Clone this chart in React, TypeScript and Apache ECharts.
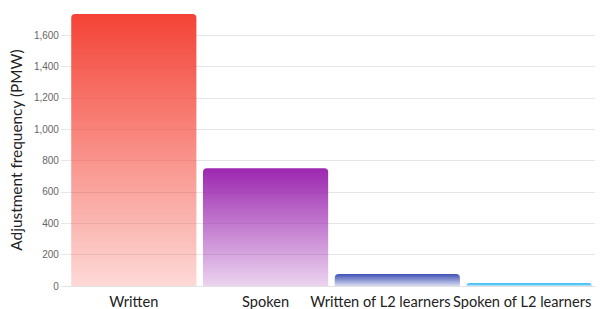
import React, { useEffect, useRef } from "react";
import * as echarts from "echarts";

const categories = ["Written", "Spoken", "Written of L2 learners", "Spoken of L2 learners"];
const values = [1734, 750, 76, 17];
const topColors = ["rgba(244,67,54,1)", "rgba(156,39,176,1)", "rgba(63,81,181,1)", "rgba(3,169,244,1)"];
const bottomColors = ["rgba(244,67,54,0.2)", "rgba(156,39,176,0.2)", "rgba(63,81,181,0.2)", "rgba(3,169,244,0.2)"];
const yAxisTitle = "Adjustment frequency (PMW)";
// horizontal shift of each category label (reference labels are nudged left to avoid overlap)
const labelPadRight = [0, 0, 34, 14];

export default function App() {
  const ref = useRef<HTMLDivElement>(null);
  useEffect(() => {
    if (!ref.current) return;
    const chart = echarts.init(ref.current, null, { renderer: "svg" });
    chart.setOption({
      animation: false,
      grid: { left: 66, right: 5, top: 14, bottom: 23, containLabel: false },
      xAxis: {
        type: "category",
        data: categories.map((c, i) => ({
          value: c,
          textStyle: { padding: [0, labelPadRight[i], 0, 0] },
        })),
        axisLine: { show: true, lineStyle: { color: "#e3e3e3", width: 1 } },
        axisTick: { show: false },
        axisLabel: {
          color: "#222",
          fontFamily: "Lato",
          fontSize: 14.6,
          margin: 8,
          interval: 0,
        },
      },
      yAxis: {
        type: "value",
        min: 0,
        max: 1734,
        interval: 200,
        name: yAxisTitle,
        nameLocation: "middle",
        nameGap: 42,
        nameTextStyle: { color: "#222", fontFamily: "Lato", fontSize: 15.4 },
        axisLine: { show: false },
        axisTick: { show: true, length: 7, lineStyle: { color: "#e6e6e6" } },
        axisLabel: {
          color: "#666",
          fontFamily: "Liberation Sans",
          fontSize: 10,
          margin: 9,
          showMaxLabel: false,
          formatter: (v: number) => (v % 200 === 0 ? v.toLocaleString("en-US") : ""),
        },
        splitLine: { show: true, showMaxLine: false, lineStyle: { color: "#e6e6e6", width: 1 } },
      },
      series: [
        {
          type: "bar",
          barCategoryGap: "5%",
          data: values.map((v, i) => ({
            value: v,
            itemStyle: {
              color: new echarts.graphic.LinearGradient(0, 0, 0, 1, [
                { offset: 0, color: topColors[i] },
                { offset: 1, color: bottomColors[i] },
              ]),
              borderRadius: [4, 4, 0, 0],
            },
          })),
        },
      ],
    });
    return () => chart.dispose();
  }, []);
  return <div ref={ref} style={{ width: 600, height: 309, position: "absolute", left: 0, top: 0 }} />;
}
